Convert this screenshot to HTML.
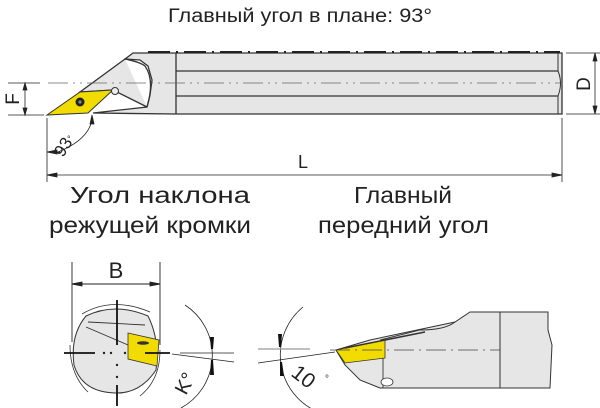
<!DOCTYPE html>
<html><head><meta charset="utf-8"><style>
html,body{margin:0;padding:0;background:#fff;}
svg{display:block;}
text{font-family:"Liberation Sans",sans-serif;fill:#222;}
</style></head><body>
<svg width="600" height="408" viewBox="0 0 600 408" xmlns="http://www.w3.org/2000/svg">
<text x="168" y="22" font-size="19" textLength="264" lengthAdjust="spacingAndGlyphs">Главный угол в плане: 93°</text>

<g stroke="#333" stroke-width="1.3" fill="#e6e6e6">
<polygon points="133,53 175,53 562,53 562,114 175,114 93,113 147,107 150,95 152,80 148,66 140,60 125,59"/>
<path d="M125,59 L80,92 L113,90 L147,107" fill="#e6e6e6"/>
<line x1="176" y1="53" x2="176" y2="114"/>
<line x1="176" y1="71" x2="558" y2="71"/>
<line x1="176" y1="96" x2="558" y2="96"/>
<path d="M558,53 L558,71 Q563,83 558,96 L558,114" fill="none" stroke-width="1"/>
<path d="M125,59 Q140,62 145,66 Q155,80 147,107" fill="none"/>
</g>
<line x1="148" y1="52" x2="560" y2="52" stroke="#222" stroke-width="2" stroke-dasharray="22,6,2,6"/>
<line x1="48" y1="83" x2="560" y2="83" stroke="#666" stroke-width="0.8" stroke-dasharray="20,5,2,5,2,5"/>
<polygon points="47,115 80,92 113,90 88,113" fill="#f2dc00" stroke="#333" stroke-width="1"/>
<circle cx="80" cy="102" r="4.5" fill="#222"/>
<circle cx="80" cy="102" r="1.6" fill="#888"/>
<circle cx="115" cy="91" r="3.5" fill="#eee" stroke="#333"/>

<g stroke="#222" stroke-width="0.8" fill="#222">
<line x1="8" y1="83" x2="40" y2="83"/>
<line x1="8" y1="115" x2="44" y2="115"/>
<line x1="25" y1="83" x2="25" y2="115"/>
<polygon points="25,83 23,90 27,90"/><polygon points="25,115 23,108 27,108"/>
<line x1="566" y1="53" x2="600" y2="53"/>
<line x1="566" y1="114" x2="600" y2="114"/>
<line x1="595" y1="53" x2="595" y2="114"/>
<polygon points="595,53 593,61 597,61"/><polygon points="595,114 593,106 597,106"/>
<line x1="47" y1="118" x2="47" y2="182"/>
<line x1="562" y1="118" x2="562" y2="182"/>
<line x1="47" y1="175" x2="562" y2="175"/>
<polygon points="47,175 57,173 57,177"/><polygon points="562,175 552,173 552,177"/>
<line x1="47" y1="152" x2="60" y2="152"/>
<polygon points="47,152 57,150 57,154"/>
<path d="M58,152 Q88,140 92,120" fill="none"/>
<polygon points="92,115 90,124 94,124"/>
</g>
<text x="0" y="0" font-size="19" transform="translate(19,99) rotate(-90)" text-anchor="middle">F</text>
<text x="0" y="0" font-size="19" transform="translate(590,84) rotate(-90)" text-anchor="middle">D</text>
<text x="0" y="0" font-size="17" transform="translate(63,158) rotate(-58)">93</text>
<text x="67" y="142" font-size="9">°</text>
<text x="303" y="168" font-size="18" text-anchor="middle">L</text>

<text x="70" y="203" font-size="23" textLength="180" lengthAdjust="spacingAndGlyphs">Угол наклона</text>
<text x="49" y="233" font-size="23" textLength="202" lengthAdjust="spacingAndGlyphs">режущей кромки</text>
<text x="354" y="203" font-size="23" textLength="98" lengthAdjust="spacingAndGlyphs">Главный</text>
<text x="318" y="233" font-size="23" textLength="171" lengthAdjust="spacingAndGlyphs">передний угол</text>

<g stroke="#222" stroke-width="0.9" fill="#222">
<line x1="72" y1="262" x2="72" y2="342"/>
<line x1="160" y1="262" x2="160" y2="345"/>
<line x1="72" y1="284" x2="160" y2="284"/>
<polygon points="72,284 82,282 82,286"/><polygon points="160,284 150,282 150,286"/>
</g>
<text x="116" y="278" font-size="22" text-anchor="middle">B</text>
<path d="M86,316 Q115,302 148,316 Q160,340 156,370 Q140,394 115,393 Q82,392 74,365 Q70,335 86,316Z" fill="#e6e6e6" stroke="#333" stroke-width="1"/>
<path d="M82,314 Q112,296 150,312" fill="none" stroke="#333" stroke-width="0.8"/>
<path d="M70,345 Q70,375 88,392" fill="none" stroke="#333" stroke-width="0.8"/>
<path d="M160,350 Q160,380 140,396" fill="none" stroke="#333" stroke-width="0.8"/>
<path d="M88,322 L145,325 M86,327 L128,345" fill="none" stroke="#333" stroke-width="0.9"/>
<polygon points="128,333 159,340 157,366 128,359" fill="#f2dc00" stroke="#333" stroke-width="0.8"/>
<ellipse cx="143" cy="343" rx="6" ry="1.8" fill="#333"/>
<g stroke="#111" stroke-width="1.8">
<line x1="64" y1="353" x2="95" y2="353"/>
<line x1="145" y1="353" x2="170" y2="353"/>
<line x1="117" y1="300" x2="117" y2="345"/>
<line x1="117" y1="385" x2="117" y2="406"/>
</g>
<g fill="#222"><circle cx="104" cy="353" r="1.2"/><circle cx="111" cy="353" r="1.2"/><circle cx="117" cy="365" r="1.2"/><circle cx="117" cy="377" r="1.2"/><circle cx="125" cy="353" r="1.2"/></g>

<g stroke="#222" stroke-width="0.8" fill="none">
<path d="M185,305 A60,60 0 0 1 181,408"/>
<line x1="180" y1="353" x2="234" y2="353"/>
<line x1="172" y1="354" x2="234" y2="362"/>
</g>
<polygon points="210,337 214,337 213,349 211,349" fill="#111"/>
<polygon points="211,360 213,360 214,375 210,375" fill="#111"/>
<text x="0" y="0" font-size="20" transform="translate(186,396) rotate(-62)">K°</text>

<polygon points="336,350 370,340 455,322 470,312 548,312 548,330 552,345 550,388 440,388 380,388 360,380 345,365" fill="#e6e6e6" stroke="#333" stroke-width="1"/>
<path d="M455,322 Q445,330 420,330 L380,340" fill="none" stroke="#333" stroke-width="0.9"/>
<line x1="500" y1="312" x2="500" y2="388" stroke="#333" stroke-width="1"/>
<line x1="383" y1="347" x2="383" y2="388" stroke="#333" stroke-width="0.9"/>
<ellipse cx="387" cy="382" rx="6" ry="4" fill="#fff" stroke="#333" stroke-width="0.8"/>
<polygon points="336,350 385,340 385,358 345,363" fill="#f2dc00" stroke="#333" stroke-width="0.8"/>
<line x1="345" y1="348" x2="425" y2="332" stroke="#333" stroke-width="1.5"/>
<line x1="330" y1="350" x2="500" y2="350" stroke="#444" stroke-width="0.8" stroke-dasharray="20,5,2,5"/>
<g stroke="#222" stroke-width="0.8" fill="none">
<path d="M303,307 A62,62 0 0 0 318,412"/>
<line x1="258" y1="363" x2="335" y2="352"/>
</g>
<line x1="258" y1="349" x2="310" y2="349" stroke="#999" stroke-width="1.2"/>
<polygon points="278,334 282,334 281,347 279,347" fill="#111"/>
<polygon points="280,362 282,362 284,376 280,376" fill="#111"/>
<text x="0" y="0" font-size="21" transform="translate(290,375) rotate(38)">10</text>
<text x="325" y="382" font-size="10">°</text>
</svg>
</body></html>
